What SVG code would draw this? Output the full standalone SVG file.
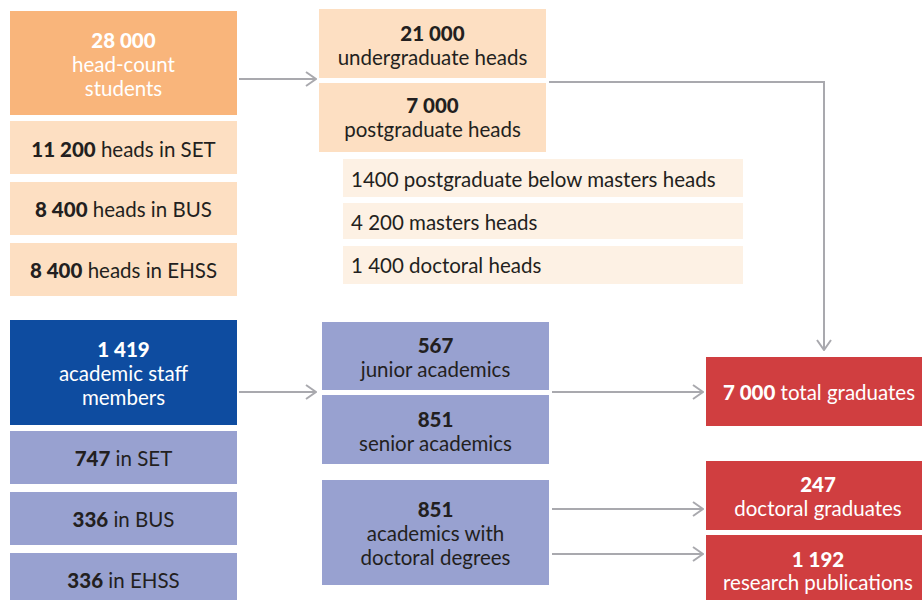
<svg xmlns="http://www.w3.org/2000/svg" width="922" height="600" viewBox="0 0 922 600">
  <defs>
    <marker id="chev" viewBox="0 0 12 16" refX="11" refY="8" markerWidth="12" markerHeight="16" markerUnits="userSpaceOnUse" orient="auto">
      <path d="M1 1 L11 8 L1 15" fill="none" stroke="#a9a9ae" stroke-width="2"/>
    </marker>
    <style>
      text { font-family: Lato, "Liberation Sans", sans-serif; font-size: 20.5px; text-anchor: middle; }
      .b { font-weight: 900; }
      .w { fill: #ffffff; }
      .k { fill: #231f20; }
      .l { text-anchor: start; }
      .o1 { fill: #f9b57b; }
      .o2 { fill: #fddfc2; }
      .o3 { fill: #fdf1e4; }
      .b1 { fill: #0e4ca0; }
      .b2 { fill: #98a1d0; }
      .r1 { fill: #d03e40; }
      .con { fill: none; stroke: #a9a9ae; stroke-width: 2; }
    </style>
  </defs>

  <!-- connectors -->
  <g id="connectors">
    <line class="con" x1="239" y1="79" x2="316" y2="79" marker-end="url(#chev)"/>
    <polyline class="con" points="549,82 824,82 824,350" marker-end="url(#chev)"/>
    <line class="con" x1="239" y1="392" x2="316" y2="392" marker-end="url(#chev)"/>
    <line class="con" x1="552" y1="392" x2="703" y2="392" marker-end="url(#chev)"/>
    <line class="con" x1="552" y1="509" x2="703" y2="509" marker-end="url(#chev)"/>
    <line class="con" x1="552" y1="554" x2="703" y2="554" marker-end="url(#chev)"/>
  </g>

  <!-- students -->
  <g id="students">
    <rect class="o1" x="10" y="11" width="227" height="104"/>
    <text class="w" x="123.5" y="48"><tspan class="b">28 000</tspan></text>
    <text class="w" x="123.5" y="72">head-count</text>
    <text class="w" x="123.5" y="96">students</text>
  </g>
  <g id="students-set">
    <rect class="o2" x="10" y="121" width="227" height="53"/>
    <text class="k" x="123.5" y="157"><tspan class="b">11 200</tspan> heads in SET</text>
  </g>
  <g id="students-bus">
    <rect class="o2" x="10" y="182" width="227" height="53"/>
    <text class="k" x="123.5" y="217"><tspan class="b">8 400</tspan> heads in BUS</text>
  </g>
  <g id="students-ehss">
    <rect class="o2" x="10" y="243" width="227" height="53"/>
    <text class="k" x="123.5" y="278"><tspan class="b">8 400</tspan> heads in EHSS</text>
  </g>

  <!-- student levels -->
  <g id="undergraduate">
    <rect class="o2" x="319" y="9" width="227" height="69"/>
    <text class="k b" x="432.5" y="41">21 000</text>
    <text class="k" x="432.5" y="65">undergraduate heads</text>
  </g>
  <g id="postgraduate">
    <rect class="o2" x="319" y="83" width="227" height="69"/>
    <text class="k b" x="432.5" y="113">7 000</text>
    <text class="k" x="432.5" y="137">postgraduate heads</text>
  </g>
  <g id="below-masters">
    <rect class="o3" x="343" y="159" width="400" height="38"/>
    <text class="k l" x="351" y="187">1400 postgraduate below masters heads</text>
  </g>
  <g id="masters">
    <rect class="o3" x="343" y="203" width="400" height="36"/>
    <text class="k l" x="351" y="230">4 200 masters heads</text>
  </g>
  <g id="doctoral">
    <rect class="o3" x="343" y="246" width="400" height="38"/>
    <text class="k l" x="351" y="273">1 400 doctoral heads</text>
  </g>

  <!-- staff -->
  <g id="staff">
    <rect class="b1" x="10" y="320" width="227" height="105"/>
    <text class="w b" x="123.5" y="357">1 419</text>
    <text class="w" x="123.5" y="381">academic staff</text>
    <text class="w" x="123.5" y="405">members</text>
  </g>
  <g id="staff-set">
    <rect class="b2" x="10" y="431" width="227" height="53"/>
    <text class="k" x="123.5" y="466"><tspan class="b">747</tspan> in SET</text>
  </g>
  <g id="staff-bus">
    <rect class="b2" x="10" y="492" width="227" height="53"/>
    <text class="k" x="123.5" y="527"><tspan class="b">336</tspan> in BUS</text>
  </g>
  <g id="staff-ehss">
    <rect class="b2" x="10" y="553" width="227" height="47"/>
    <text class="k" x="123.5" y="588"><tspan class="b">336</tspan> in EHSS</text>
  </g>

  <!-- staff levels -->
  <g id="junior">
    <rect class="b2" x="322" y="322" width="227" height="68"/>
    <text class="k b" x="435.5" y="353">567</text>
    <text class="k" x="435.5" y="377">junior academics</text>
  </g>
  <g id="senior">
    <rect class="b2" x="322" y="395" width="227" height="69"/>
    <text class="k b" x="435.5" y="427">851</text>
    <text class="k" x="435.5" y="451">senior academics</text>
  </g>
  <g id="with-doctorate">
    <rect class="b2" x="322" y="480" width="227" height="105"/>
    <text class="k b" x="435.5" y="517">851</text>
    <text class="k" x="435.5" y="541">academics with</text>
    <text class="k" x="435.5" y="565">doctoral degrees</text>
  </g>

  <!-- outputs -->
  <g id="total-graduates">
    <rect class="r1" x="706" y="357" width="216" height="69"/>
    <text class="w" x="819" y="400"><tspan class="b">7 000</tspan> total graduates</text>
  </g>
  <g id="doctoral-graduates">
    <rect class="r1" x="706" y="461" width="216" height="69"/>
    <text class="w b" x="818" y="492">247</text>
    <text class="w" x="818" y="516">doctoral graduates</text>
  </g>
  <g id="publications">
    <rect class="r1" x="706" y="535" width="216" height="65"/>
    <text class="w b" x="818" y="567">1 192</text>
    <text class="w" x="818" y="590">research publications</text>
  </g>
</svg>
